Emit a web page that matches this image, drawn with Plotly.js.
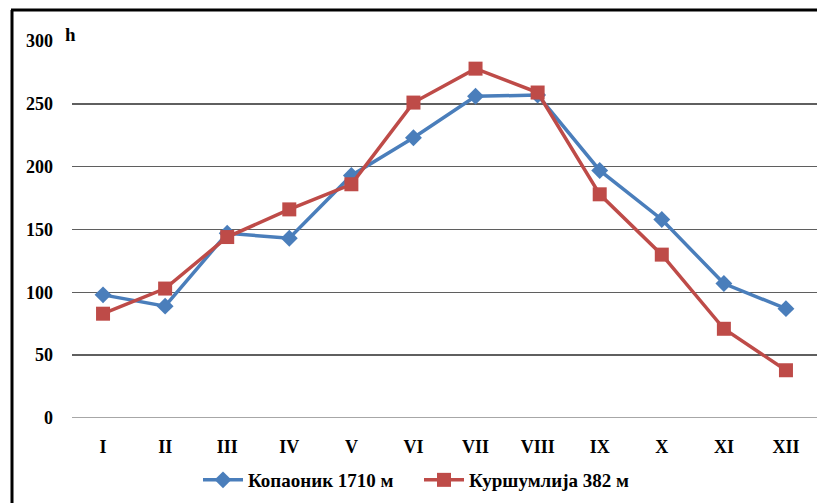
<!DOCTYPE html>
<html>
<head>
<meta charset="utf-8">
<script src="https://cdn.plot.ly/plotly-3.0.1.min.js"></script>
<style>html,body{margin:0;padding:0;background:#fff;}#chart{width:817px;height:503px;}</style>
</head>
<body>
<div id="chart"></div>
<script>
const months = ["I","II","III","IV","V","VI","VII","VIII","IX","X","XI","XII"];
const kopaonik = [98, 89, 147, 143, 193, 223, 256, 257, 197, 158, 107, 87];
const kursumlija = [83, 103, 144, 166, 186, 251, 278, 259, 178, 130, 71, 38];
const yTicks = [0, 50, 100, 150, 200, 250, 300];
const nameKop = "Копаоник 1710 м";
const nameKur = "Куршумлија 382 м";
const unitLabel = "h";

const font = {family: "Liberation Serif, Times New Roman, serif", size: 18, color: "#000"};

const traces = [
  {x: months, y: kopaonik, name: nameKop, type: "scatter", mode: "lines+markers", cliponaxis: false,
   line: {color: "#4a7ebb", width: 3.5}, marker: {symbol: "diamond", size: 13, color: "#4a7ebb"}},
  {x: months, y: kursumlija, name: nameKur, type: "scatter", mode: "lines+markers", cliponaxis: false,
   line: {color: "#be4b48", width: 3.5}, marker: {symbol: "square", size: 14, color: "#be4b48"}}
];

const L = 72, R = 0, T = 41, B = 85, W = 817, H = 503;
const pw = W - L - R, ph = H - T - B;
const px = v => (v - L) / pw;
const py = v => (H - B - v) / ph;

const layout = {
  width: W, height: H,
  margin: {l: L, r: R, t: T, b: B, pad: 0, autoexpand: false},
  paper_bgcolor: "#fff", plot_bgcolor: "#fff",
  font: font,
  showlegend: true,
  legend: {orientation: "h", x: px(198), xanchor: "left", y: py(480), yanchor: "middle",
           font: {family: font.family, size: 19, color: "#000", weight: "bold"},
           entrywidth: 166, entrywidthmode: "pixels", itemwidth: 40, tracegroupgap: 0},
  xaxis: {type: "category", range: [-0.5, 11.5], autorange: false, showgrid: false, zeroline: false, showline: false,
          ticks: "", ticklabelstandoff: 16, automargin: false,
          tickfont: {family: font.family, size: 18, color: "#000", weight: "bold"}},
  yaxis: {range: [0, 300], autorange: false, tickvals: yTicks, showgrid: true, gridcolor: "#5f5f5f", gridwidth: 1.5,
          zeroline: false, showline: false, ticks: "", ticklabelstandoff: 18,
          automargin: false,
          tickfont: {family: font.family, size: 18, color: "#000", weight: "bold"}},
  annotations: [
    {text: unitLabel, xref: "paper", yref: "paper", x: px(63), y: py(35), xanchor: "left", yanchor: "middle",
     showarrow: false, font: {family: font.family, size: 19, color: "#000", weight: "bold"}}
  ],
  shapes: [
    {type: "line", xref: "paper", yref: "y", x0: 0, x1: 1, y0: yTicks[0], y1: yTicks[0], layer: "below", line: {color: "#8a8a8a", width: 1.5}},
    {type: "line", xref: "paper", yref: "paper", x0: px(12), x1: px(12), y0: py(10), y1: py(503), line: {color: "#000", width: 3}},
    {type: "line", xref: "paper", yref: "paper", x0: px(11), x1: px(817), y0: py(10), y1: py(10), line: {color: "#000", width: 3}}
  ]
};

Plotly.newPlot("chart", traces, layout, {staticPlot: true, displayModeBar: false});
</script>
</body>
</html>
